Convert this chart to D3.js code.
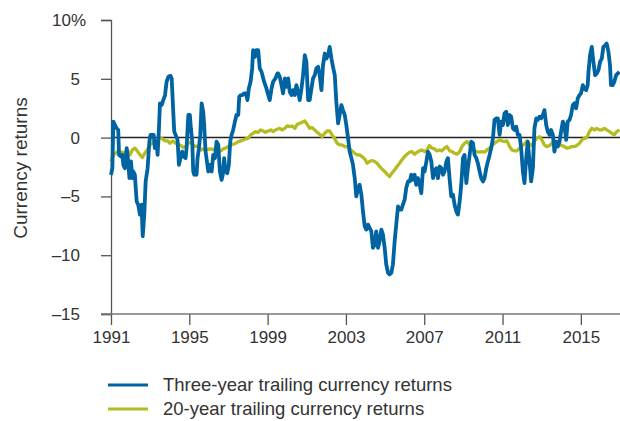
<!DOCTYPE html>
<html><head><meta charset="utf-8">
<script src="https://cdn.jsdelivr.net/npm/d3@7"></script>
<style>
html,body{margin:0;padding:0;background:#fff;}
svg{display:block;font-family:"Liberation Sans",Arial,sans-serif;}
</style></head>
<body><svg id="chart" width="620" height="421"></svg>
<script>
const yTicks = [-15, -10, -5, 0, 5, 10];
const xTicks = [1991, 1995, 1999, 2003, 2007, 2011, 2015];
const seriesNames = ["Three-year trailing currency returns", "20-year trailing currency returns"];

const blueYears = [1991.00,1991.07,1991.12,1991.20,1991.29,1991.37,1991.41,1991.51,1991.58,1991.63,1991.71,1991.80,1991.88,1991.94,1992.02,1992.09,1992.14,1992.22,1992.31,1992.39,1992.48,1992.56,1992.62,1992.70,1992.77,1992.87,1992.96,1993.02,1993.11,1993.18,1993.24,1993.33,1993.38,1993.45,1993.50,1993.59,1993.67,1993.76,1993.84,1993.93,1994.04,1994.10,1994.18,1994.23,1994.30,1994.40,1994.47,1994.55,1994.64,1994.72,1994.81,1994.86,1994.95,1995.03,1995.08,1995.15,1995.20,1995.25,1995.32,1995.37,1995.42,1995.49,1995.56,1995.63,1995.71,1995.76,1995.83,1995.90,1995.97,1996.05,1996.14,1996.22,1996.31,1996.39,1996.48,1996.56,1996.65,1996.71,1996.78,1996.85,1996.94,1997.02,1997.09,1997.16,1997.24,1997.33,1997.41,1997.50,1997.55,1997.63,1997.72,1997.80,1997.89,1997.97,1998.04,1998.13,1998.21,1998.26,1998.35,1998.43,1998.52,1998.60,1998.69,1998.82,1998.94,1999.03,1999.11,1999.20,1999.28,1999.40,1999.50,
1999.54,1999.62,1999.71,1999.79,1999.88,1999.96,2000.05,2000.13,2000.22,2000.30,2000.39,2000.47,2000.56,2000.64,2000.73,2000.81,2000.90,2000.98,2001.07,2001.15,2001.24,2001.32,2001.41,2001.49,2001.58,2001.66,2001.75,2001.83,2001.92,2002.00,2002.09,2002.17,2002.26,2002.34,2002.43,2002.51,2002.60,2002.68,2002.77,2002.85,2002.94,2003.02,2003.11,2003.19,2003.28,2003.36,2003.45,2003.53,2003.62,2003.70,2003.79,2003.87,2003.96,2004.04,2004.13,2004.21,2004.30,2004.38,2004.47,2004.55,2004.64,2004.72,2004.81,2004.89,2004.98,2005.06,2005.15,2005.23,2005.32,2005.40,2005.49,2005.57,2005.66,2005.74,2005.83,2005.91,2006.00,2006.08,2006.17,2006.26,2006.34,2006.43,2006.51,2006.59,2006.68,2006.77,2006.85,2006.94,2007.02,2007.11,2007.19,2007.28,2007.36,2007.45,2007.53,2007.62,2007.70,2007.79,2007.87,2007.96,2008.04,2008.13,2008.21,
2008.30,2008.38,2008.47,2008.55,2008.64,2008.72,2008.81,2008.89,2008.98,2009.06,2009.15,2009.23,2009.32,2009.40,2009.49,2009.57,2009.66,2009.74,2009.83,2009.91,2010.00,2010.08,2010.17,2010.25,2010.34,2010.42,2010.51,2010.59,2010.68,2010.76,2010.85,2010.93,2011.02,2011.10,2011.19,2011.27,2011.36,2011.44,2011.53,2011.61,2011.70,2011.78,2011.87,2011.95,2012.04,2012.12,2012.21,2012.29,2012.38,2012.46,2012.55,2012.63,2012.72,2012.80,2012.89,2012.97,2013.06,2013.14,2013.23,2013.31,2013.40,2013.48,2013.57,2013.65,2013.74,2013.82,2013.91,2013.99,2014.08,2014.16,2014.25,2014.33,2014.42,2014.50,2014.59,2014.67,2014.76,2014.84,2014.93,2015.01,2015.10,2015.18,2015.27,2015.35,2015.39,2015.47,2015.56,2015.64,2015.73,2015.81,2015.90,2015.98,2016.07,2016.15,2016.24,2016.32,2016.41,2016.49,2016.54,2016.63,2016.71,2016.80,2016.89,2016.97];

const blueValues = [-3.16,-2.60,1.36,1.07,0.79,0.65,-1.47,-1.61,-1.47,-2.32,-2.60,-0.90,-2.03,-3.45,-2.03,-3.45,-2.88,-3.16,-5.42,-5.71,-6.55,-5.71,-8.39,-6.55,-3.73,-2.60,-0.34,0.23,0.23,0.23,-0.90,-0.34,-1.47,0.79,2.91,2.77,3.19,3.62,4.75,5.17,5.25,5.03,2.20,0.51,0.23,-0.20,-2.32,-1.75,-1.19,-1.61,-1.75,-0.90,1.92,1.92,0.79,-0.34,-2.88,-3.16,-2.88,-3.16,-1.75,-0.90,0.23,2.91,2.20,1.07,-1.19,-2.03,-2.88,-2.32,-2.88,-1.47,-1.75,-0.34,-0.62,-2.88,-3.59,-3.16,-1.75,-2.88,-3.02,-2.32,-0.34,0.23,0.65,1.36,1.92,1.92,3.47,3.62,3.62,3.76,3.76,3.19,4.18,4.75,5.88,7.43,6.86,7.43,7.43,5.88,5.59,4.75,4.18,3.62,3.19,4.18,4.75,5.03,5.45,
5.45,5.17,4.46,3.76,5.03,4.32,5.03,3.90,3.62,4.04,3.62,4.46,3.90,3.19,4.18,5.31,7.01,6.44,3.19,3.19,4.18,5.03,5.31,5.88,6.02,5.31,4.04,6.16,7.15,6.72,7.01,7.71,6.72,6.02,5.31,3.05,1.21,1.92,2.77,2.34,1.92,1.07,-0.06,-1.19,-1.75,-2.32,-3.45,-5.00,-4.29,-4.01,-4.86,-6.27,-7.54,-7.82,-7.40,-7.68,-7.97,-9.38,-9.10,-7.97,-9.38,-8.81,-7.82,-8.25,-9.38,-10.79,-11.50,-11.64,-11.50,-10.79,-8.81,-7.40,-5.85,-6.13,-6.13,-5.71,-5.28,-4.29,-3.73,-3.73,-3.16,-3.59,-3.16,-4.01,-3.45,-4.01,-4.72,-2.60,-2.88,-2.03,-1.19,-1.47,-2.03,-3.45,-2.88,-2.60,-3.45,-2.46,-2.60,-3.16,-2.88,-2.03,-1.75,
-3.59,-5.00,-4.86,-5.71,-6.27,-6.55,-5.42,-4.01,-1.75,-1.47,-3.87,-2.60,-1.47,-0.34,-0.48,-1.47,-1.75,-2.18,-2.88,-3.45,-3.73,-3.45,-2.60,-2.03,-1.47,-0.90,-0.06,1.50,1.64,1.64,0.23,1.36,1.07,2.06,2.20,1.07,1.92,1.78,0.79,0.65,0.93,0.23,0.23,-0.90,-2.88,-3.87,-1.75,-0.34,-2.03,-3.73,-2.60,0.79,1.64,1.50,1.78,1.64,1.92,2.34,1.07,0.51,0.23,0.65,0.23,-1.19,-0.34,-0.76,-0.34,0.51,1.36,1.07,-0.20,1.36,1.50,1.92,2.77,2.91,2.49,3.33,3.62,3.76,4.46,4.18,4.04,4.46,5.59,7.01,7.71,6.44,5.31,5.45,5.73,6.44,6.72,7.71,7.85,7.99,7.29,6.16,4.46,4.46,4.75,5.31,5.45,5.59];

const greenYears = [1991.00,1991.12,1991.24,1991.37,1991.54,1991.71,1991.83,1991.97,1992.09,1992.22,1992.34,1992.48,1992.60,1992.73,1992.85,1992.99,1993.11,1993.24,1993.38,1993.50,1993.62,1993.76,1993.89,1994.01,1994.15,1994.30,1994.44,1994.57,1994.69,1994.81,1994.95,1995.06,1995.20,1995.32,1995.46,1995.59,1995.71,1995.83,1995.97,1996.10,1996.22,1996.36,1996.48,1996.61,1996.73,1996.85,1996.99,1997.12,1997.24,1997.38,1997.50,1997.63,1997.75,1997.87,1998.01,1998.13,1998.26,1998.38,1998.52,1998.64,1998.77,1998.89,1999.03,1999.16,1999.28,1999.40,
1999.62,1999.74,1999.88,2000.00,2000.13,2000.25,2000.39,2000.51,2000.64,2000.76,2000.90,2001.02,2001.15,2001.27,2001.41,2001.53,2001.66,2001.78,2001.92,2002.04,2002.17,2002.29,2002.43,2002.55,2002.68,2002.80,2002.94,2003.06,2003.19,2003.31,2003.45,2003.57,2003.70,2003.82,2003.96,2004.08,2004.21,2004.33,2004.47,2004.59,2004.72,2004.84,2004.98,2005.10,2005.23,2005.35,2005.49,2005.61,2005.74,2005.86,2006.00,2006.12,2006.25,2006.37,2006.51,2006.63,2006.76,2006.88,2007.02,2007.14,2007.27,2007.39,2007.53,2007.65,2007.79,2007.90,2008.04,2008.16,
2008.30,2008.42,2008.55,2008.67,2008.81,2008.93,2009.06,2009.18,2009.32,2009.44,2009.57,2009.69,2009.83,2009.95,2010.08,2010.20,2010.34,2010.46,2010.59,2010.71,2010.85,2010.97,2011.10,2011.22,2011.36,2011.48,2011.61,2011.73,2011.87,2011.99,2012.12,2012.24,2012.38,2012.50,2012.63,2012.75,2012.89,2013.01,2013.14,2013.26,2013.40,2013.52,2013.65,2013.77,2013.91,2014.03,2014.16,2014.28,2014.42,2014.54,2014.67,2014.79,2014.93,2015.05,2015.18,2015.30,2015.44,2015.56,2015.69,2015.81,2015.95,2016.07,2016.20,2016.32,2016.46,2016.58,2016.71,2016.83,2016.97];

const greenValues = [-2.03,-1.47,-1.33,-1.13,-1.24,-1.33,-1.05,-1.47,-1.05,-0.90,-1.13,-1.47,-1.69,-1.33,-1.05,-0.62,-0.48,-0.34,-0.20,0.00,-0.11,-0.28,-0.28,-0.48,-0.28,-0.48,-0.56,-0.68,-0.85,-0.76,-0.48,-0.40,-0.62,-0.76,-0.71,-1.05,-0.96,-1.05,-0.99,-0.96,-1.02,-0.96,-1.05,-1.13,-0.96,-0.90,-0.76,-0.62,-0.56,-0.48,-0.34,-0.28,-0.20,-0.11,-0.06,0.23,0.37,0.51,0.45,0.65,0.56,0.45,0.56,0.65,0.51,0.65,
0.79,0.65,0.79,0.99,0.93,0.99,0.79,1.13,1.21,1.30,1.41,1.13,0.79,0.85,0.65,0.45,0.28,0.08,0.37,0.56,0.56,0.23,-0.11,-0.48,-0.62,-0.62,-0.76,-0.76,-0.96,-1.13,-1.33,-1.47,-1.47,-1.61,-1.81,-2.18,-2.03,-1.95,-2.03,-2.18,-2.46,-2.66,-2.88,-3.11,-3.31,-3.02,-2.74,-2.46,-2.18,-1.89,-1.61,-1.41,-1.24,-1.19,-1.41,-1.24,-1.13,-1.05,-1.19,-1.05,-0.68,-0.90,-0.96,-1.13,-1.05,-1.13,-0.90,-0.76,
-1.13,-1.19,-1.33,-1.41,-1.19,-0.76,-0.48,-0.34,-0.62,-0.90,-1.13,-1.19,-1.24,-1.19,-1.24,-1.05,-0.90,-0.68,-0.48,-0.34,-0.20,-0.28,-0.34,-0.28,-0.76,-1.05,-1.13,-1.13,-0.90,-0.68,-0.56,-0.28,-0.56,-0.68,-0.28,-0.06,0.08,-0.20,-0.62,-0.76,-0.68,-0.48,-0.28,-0.40,-0.56,-0.68,-0.76,-0.90,-0.85,-0.76,-0.76,-0.68,-0.48,-0.20,-0.06,0.00,0.51,0.79,0.65,0.79,0.65,0.65,0.79,0.65,0.51,0.37,0.23,0.51,0.65];

const blueColor = "#0064a2";
const greenColor = "#b4bc22";

const svg = d3.select("#chart");
const x = d3.scaleLinear().domain([1991, 2017]).range([111, 620]);
const y = d3.scaleLinear().domain([-15, 10]).range([314, 20]);
const textColor = "#333";
const fs = 17;

// Y axis
const yAxis = svg.append("g").attr("transform", "translate(111,0)")
  .call(d3.axisLeft(y).tickValues(yTicks).tickSize(10).tickPadding(21)
    .tickFormat(d => d < 0 ? "\u2013" + Math.abs(d) : (d === 10 ? "10%" : String(d))));
yAxis.select(".domain").attr("stroke", "#555").attr("stroke-width", 1.3);
yAxis.selectAll(".tick line").attr("stroke", "#555").attr("stroke-width", 1.3);
yAxis.selectAll(".tick text").attr("fill", textColor).attr("font-size", fs)
  .attr("font-family", "Liberation Sans, Arial, sans-serif");
yAxis.selectAll(".tick").filter(d => d === 10).select("text").attr("x", -25);

// X axis
const xAxis = svg.append("g").attr("transform", "translate(0,314)")
  .call(d3.axisBottom(x).tickValues(xTicks).tickSize(11).tickPadding(6).tickFormat(d3.format("d")));
xAxis.select(".domain").remove();
xAxis.selectAll(".tick line").attr("stroke", "#555").attr("stroke-width", 1.3);
xAxis.selectAll(".tick text").attr("fill", textColor).attr("font-size", fs)
  .attr("font-family", "Liberation Sans, Arial, sans-serif");
svg.append("line").attr("x1", 101).attr("x2", 620).attr("y1", y(-15)).attr("y2", y(-15))
  .attr("stroke", "#777").attr("stroke-width", 1.3);

// Zero line
svg.append("line").attr("x1", 111).attr("x2", 620).attr("y1", y(0)).attr("y2", y(0))
  .attr("stroke", "#222").attr("stroke-width", 1.5);

// Y label
svg.append("text").attr("transform", `translate(27,168) rotate(-90)`)
  .attr("text-anchor", "middle").attr("fill", textColor).attr("font-size", 19)
  .text("Currency returns");

const line = d3.line().x(d => x(d[0])).y(d => y(d[1]));
const greenData = greenYears.map((yr, i) => [yr, greenValues[i]]);
const blueData = blueYears.map((yr, i) => [yr, blueValues[i]]);

svg.append("path").datum(greenData).attr("d", line).attr("fill", "none")
  .attr("stroke", greenColor).attr("stroke-width", 3.3).attr("stroke-linejoin", "round");
svg.append("path").datum(blueData).attr("d", line).attr("fill", "none")
  .attr("stroke", blueColor).attr("stroke-width", 3.8).attr("stroke-linejoin", "round");

// Legend
const legend = svg.append("g");
[[seriesNames[0], blueColor, 385], [seriesNames[1], greenColor, 409]].forEach(([name, col, ly]) => {
  legend.append("line").attr("x1", 108).attr("x2", 148).attr("y1", ly).attr("y2", ly)
    .attr("stroke", col).attr("stroke-width", 3);
  legend.append("text").attr("x", 163).attr("y", ly).attr("dy", "0.35em")
    .attr("fill", textColor).attr("font-size", 18.5).text(name);
});
</script></body></html>
